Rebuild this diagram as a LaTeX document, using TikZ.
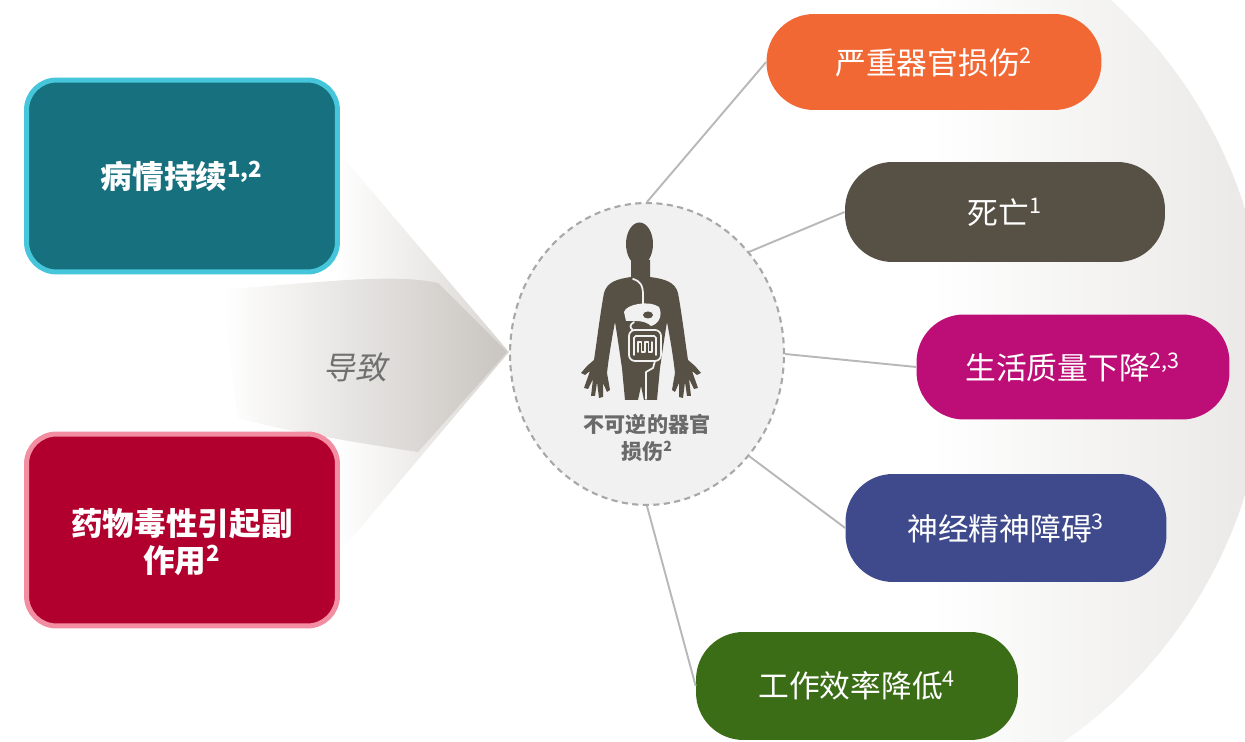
\documentclass[tikz,border=0pt]{standalone}
\usepackage{fontspec}
\setmainfont{Noto Sans CJK SC}
\newfontfamily\slantcjk[FakeSlant=0.22]{Noto Sans CJK SC}
\usetikzlibrary{shapes.geometric}

\definecolor{bggray}{HTML}{E8E7E5}
\definecolor{funnelgray}{HTML}{D9D6D2}
\definecolor{bandgray}{HTML}{C9C5C0}
\definecolor{tealfill}{HTML}{17707E}
\definecolor{tealedge}{HTML}{45C6DB}
\definecolor{redfill}{HTML}{B1002D}
\definecolor{rededge}{HTML}{F28DA2}
\definecolor{orangefill}{HTML}{F26835}
\definecolor{deathfill}{HTML}{565045}
\definecolor{lifefill}{HTML}{BD0E77}
\definecolor{neurofill}{HTML}{3F4A8C}
\definecolor{workfill}{HTML}{3B6D16}
\definecolor{linkgray}{HTML}{B8B8B8}
\definecolor{dashgray}{HTML}{A8A8A8}
\definecolor{organbg}{HTML}{F1F1F1}
\definecolor{figcolor}{HTML}{565045}
\definecolor{captiongray}{HTML}{6A6A6A}
\definecolor{leadgray}{HTML}{707070}

\begin{document}
\begin{tikzpicture}[x=0.02cm,y=-0.02cm,line join=round,
		pill/.style={rounded corners=0.95cm,minimum height=2.04cm,inner sep=0,text=white,font=\fontsize{17.5}{20}\selectfont},
		causebox/.style={rounded corners=0.6cm,line width=0.1cm,minimum width=6.22cm,minimum height=3.84cm,text=white,font=\bfseries\fontsize{18}{21.5}\selectfont,align=center},
		link/.style={draw=linkgray,line width=1.1pt},
		organ/.style={draw=organbg,line width=1pt,line cap=round}]
	\useasboundingbox (0,0) rectangle (1245,742);

	% backdrop on the right
	\begin{scope}
		\clip (792,352) circle (475);
		\shade[left color=white,right color=bggray] (930,-10) rectangle (1280,760);
	\end{scope}

	% funnel and arrow band
	\shade[left color=white,right color=funnelgray] (335,148) -- (509,352) -- (335,558) -- cycle;
	\shade[left color=white,right color=bandgray] (222,289) .. controls (300,285) and (390,272) .. (438,283)
		-- (507,352) -- (418,452) .. controls (340,440) and (280,430) .. (238,418)
		.. controls (232,380) and (226,320) .. (222,289) -- cycle;
	\node[font=\slantcjk\fontsize{18}{20}\selectfont,text=leadgray] (lead) at (355,367) {导致};

	\node[causebox,fill=tealfill,draw=tealedge] (persist) at (182,176) {病情持续\textsuperscript{1,2}};
	\node[causebox,fill=redfill,draw=rededge] (toxic) at (182,530) {};
	\node[text=white,font=\bfseries\fontsize{18}{21.5}\selectfont,align=center] (toxictext) at (182,542) {药物毒性引起副\\作用\textsuperscript{2}};

	% centre: body with digestive tract
	\node[ellipse,draw=dashgray,dashed,dash pattern=on 3.5pt off 2.5pt,line width=1.2pt,fill=organbg,
		minimum width=5.48cm,minimum height=6.04cm,inner sep=0] (organ) at (647,354) {};
	\fill[figcolor] (639.5,244) ellipse [x radius=13.5,y radius=21.5];
	\fill[figcolor] (631,260) -- (631,277) .. controls (617,279) and (607,282) .. (604,293)
		.. controls (600,315) and (597,340) .. (594,360)
		-- (587,366) -- (581,373) -- (585,375) -- (590,371) -- (584,388) -- (588,389) -- (593,379)
		-- (591,396) -- (595,396) -- (597,382) -- (599,398) -- (603,397) -- (603,383) -- (607,392)
		-- (610,390) -- (607,373)
		.. controls (609,355) and (612,338) .. (615,322)
		.. controls (618,340) and (620,355) .. (622,368)
		-- (625,400) -- (638,400) -- (641,386) -- (644,400) -- (657,400) -- (660,368)
		.. controls (662,355) and (664,340) .. (667,322)
		.. controls (670,338) and (673,355) .. (675,373)
		-- (672,390) -- (675,392) -- (679,383) -- (679,397) -- (683,398) -- (685,382) -- (687,396)
		-- (691,396) -- (689,379) -- (694,389) -- (698,388) -- (692,371) -- (697,375) -- (701,373)
		-- (695,366) -- (688,360)
		.. controls (685,340) and (682,315) .. (678,293)
		.. controls (675,282) and (665,279) .. (650,277) -- (650,260) -- cycle;
	\draw[organ] (633,279) .. controls (640,281) and (643,285) .. (643,295) -- (643,306);
	\fill[organbg] (624,312) .. controls (626,304) and (650,300) .. (659,307)
		.. controls (663,315) and (659,324) .. (651,326) .. controls (645,320) and (635,321) .. (626,321) -- cycle;
	\fill[figcolor] (648,315) ellipse [x radius=5,y radius=3.5];
	\draw[organ] (634,322) .. controls (629,325) and (630,328) .. (633,330);
	\draw[organ,rounded corners=0.12cm] (629,330) rectangle (661,361);
	\draw[organ,rounded corners=1pt] (634,355) -- (634,336) -- (656,336) -- (656,355);
	\draw[organ] (638,352) -- (638,342) -- (641.5,342) -- (641.5,352) -- (645,352) -- (645,342)
		-- (648.5,342) -- (648.5,352) -- (652,352) -- (652,342);
	\draw[organ] (655,361) -- (653,368) -- (646,372) -- (646,399);
	\node[font=\bfseries\fontsize{12}{15.3}\selectfont,text=captiongray,align=center] (caption) at (647,438)
		{不可逆的器官\\损伤\textsuperscript{2}};

	% consequences
	\node[pill,fill=orangefill,minimum width=6.7cm,minimum height=1.92cm] (organdmg) at (934,62) {严重器官损伤\textsuperscript{2}};
	\node[pill,fill=deathfill,minimum width=6.4cm,minimum height=2cm] (death) at (1005,212) {死亡\textsuperscript{1}};
	\node[pill,fill=lifefill,minimum width=6.26cm,minimum height=2.1cm] (quality) at (1073,367) {生活质量下降\textsuperscript{2,3}};
	\node[pill,fill=neurofill,minimum width=6.42cm,minimum height=2.16cm] (neuro) at (1006,528) {神经精神障碍\textsuperscript{3}};
	\node[pill,fill=workfill,minimum width=6.44cm,minimum height=2.16cm] (work) at (857,686) {工作效率降低\textsuperscript{4}};

	\draw[link] (organ.north) -- (organdmg.west);
	\draw[link] (organ.45) -- (death.west);
	\draw[link] (organ.east) -- (quality.west);
	\draw[link] (organ.-45) -- (neuro.west);
	\draw[link] (organ.south) -- (work.west);
\end{tikzpicture}
\end{document}
